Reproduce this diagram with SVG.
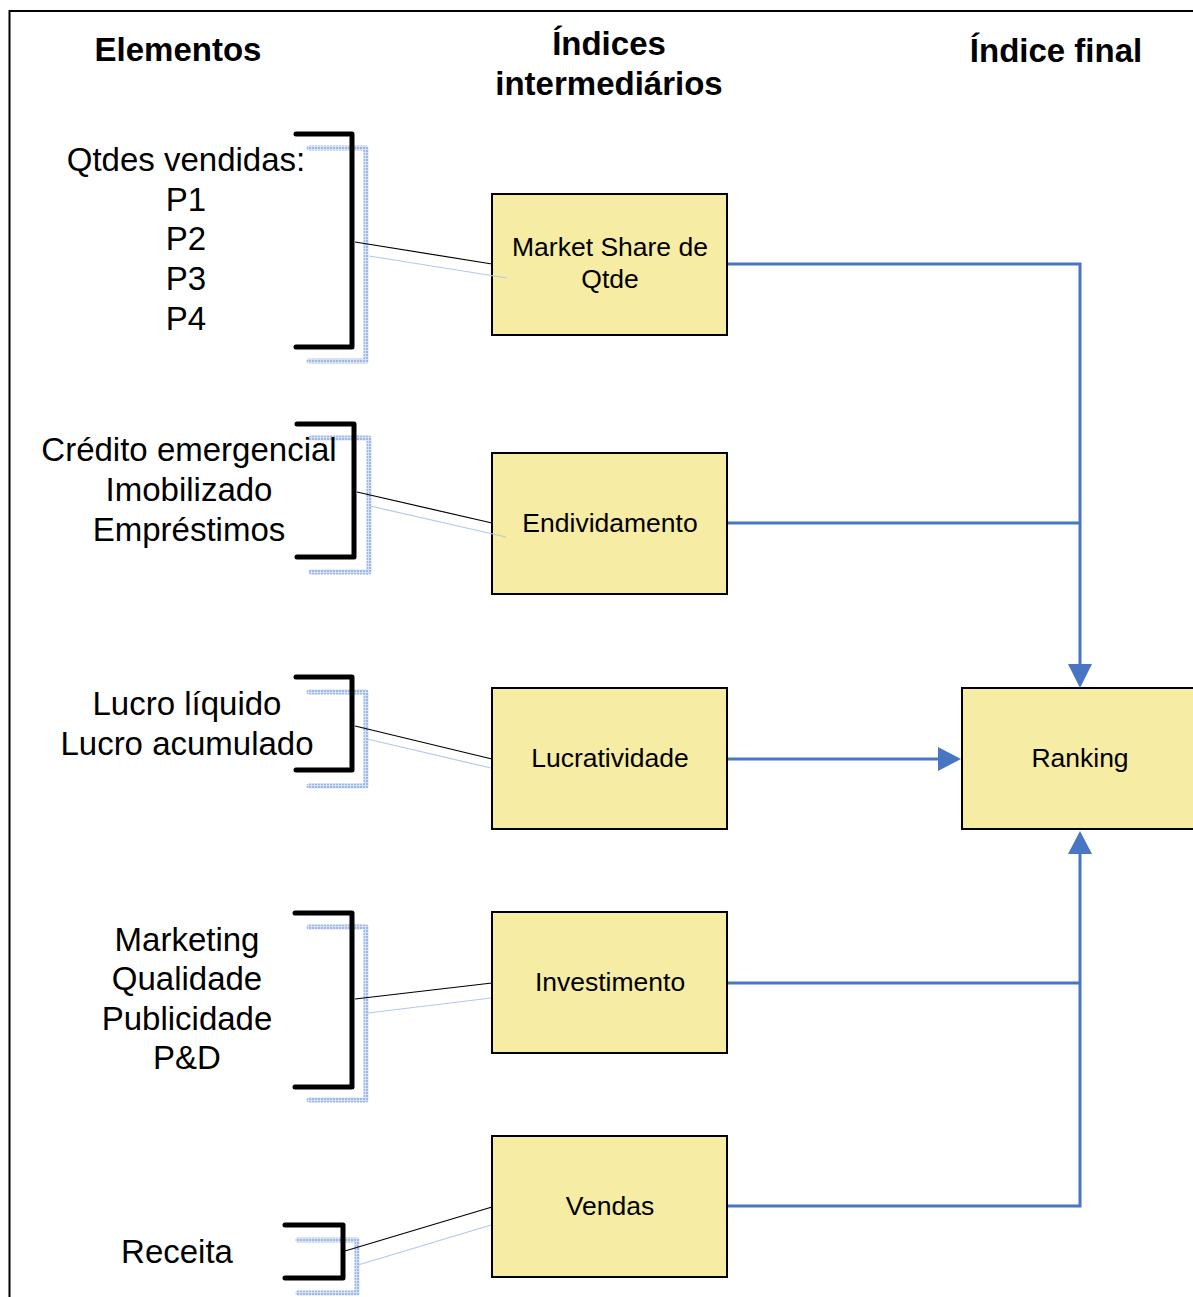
<svg xmlns="http://www.w3.org/2000/svg" width="1193" height="1297" viewBox="0 0 1193 1297">
<defs>
<pattern id="dots" width="3" height="3" patternUnits="userSpaceOnUse">
<rect width="3" height="3" fill="#D6E1F4"/>
<rect width="2" height="2" fill="#9DB8E6"/>
</pattern>
</defs>
<style>
.hdr{font-family:"Liberation Sans",Arial,sans-serif;font-size:33px;font-weight:bold;text-anchor:middle;fill:#000}
.el{font-family:"Liberation Sans",Arial,sans-serif;font-size:33px;text-anchor:middle;fill:#000}
.bx{fill:#F6ECA3;stroke:#000;stroke-width:2}
.bt{font-family:"Liberation Sans",Arial,sans-serif;font-size:26.5px;text-anchor:middle;fill:#000}
.br{fill:none;stroke:#000;stroke-width:5;stroke-linecap:round;stroke-linejoin:round}
.sh{fill:none;stroke:url(#dots);stroke-width:5;stroke-linecap:round;stroke-linejoin:round}
.ln{stroke:#000;stroke-width:1.2;fill:none}
.lns{stroke:#B3C8EC;stroke-width:1.2;fill:none}
.flow{fill:none;stroke:#4876C2;stroke-width:3}
</style>
<rect x="9.5" y="11" width="1200" height="1310" fill="none" stroke="#000" stroke-width="2"/>
<g id="headers">
<text class="hdr" x="178" y="61">Elementos</text>
<text class="hdr" x="609" y="55">Índices</text>
<text class="hdr" x="609" y="95">intermediários</text>
<text class="hdr" x="1056" y="62">Índice final</text>
</g>
<g id="brackets">
<g id="b1">
<polyline class="sh" points="309,148 366,148 366,361 309,361"/>
<polyline class="br" points="296,134 352,134 352,347 296,347"/>
<text class="el" x="186" y="171">Qtdes vendidas:</text>
<text class="el" x="186" y="211">P1</text>
<text class="el" x="186" y="250">P2</text>
<text class="el" x="186" y="290">P3</text>
<text class="el" x="186" y="330">P4</text>
</g>
<g id="b2">
<polyline class="sh" points="311,438 369,438 369,572 311,572"/>
<polyline class="br" points="297,424 354,424 354,557 297,557"/>
<text class="el" x="189" y="461">Crédito emergencial</text>
<text class="el" x="189" y="501">Imobilizado</text>
<text class="el" x="189" y="541">Empréstimos</text>
</g>
<g id="b3">
<polyline class="sh" points="309,692 366,692 366,786 309,786"/>
<polyline class="br" points="296,677 352,677 352,770 296,770"/>
<text class="el" x="187" y="715">Lucro líquido</text>
<text class="el" x="187" y="755">Lucro acumulado</text>
</g>
<g id="b4">
<polyline class="sh" points="309,927 366,927 366,1100 309,1100"/>
<polyline class="br" points="295,913 352,913 352,1087 295,1087"/>
<text class="el" x="187" y="951">Marketing</text>
<text class="el" x="187" y="990">Qualidade</text>
<text class="el" x="187" y="1030">Publicidade</text>
<text class="el" x="187" y="1069">P&amp;D</text>
</g>
<g id="b5">
<polyline class="sh" points="298,1240 357,1240 357,1293 298,1293"/>
<polyline class="br" points="285,1225 343,1225 343,1278 285,1278"/>
<text class="el" x="177" y="1263">Receita</text>
</g>
</g>
<g id="n1"><rect class="bx" x="492" y="194" width="235" height="141"/><text class="bt" x="610" y="256">Market Share de</text><text class="bt" x="610" y="288">Qtde</text></g>
<g id="n2"><rect class="bx" x="492" y="453" width="235" height="141"/><text class="bt" x="610" y="532">Endividamento</text></g>
<g id="n3"><rect class="bx" x="492" y="688" width="235" height="141"/><text class="bt" x="610" y="767">Lucratividade</text></g>
<g id="n4"><rect class="bx" x="492" y="912" width="235" height="141"/><text class="bt" x="610" y="991">Investimento</text></g>
<g id="n5"><rect class="bx" x="492" y="1136" width="235" height="141"/><text class="bt" x="610" y="1215">Vendas</text></g>
<g id="n6"><rect class="bx" x="962" y="688" width="240" height="141"/><text class="bt" x="1080" y="767">Ranking</text></g>
<g id="connectors">
<line class="lns" x1="369" y1="256" x2="507" y2="278"/>
<line class="ln" x1="355" y1="242" x2="492" y2="264"/>
<line class="lns" x1="370" y1="506" x2="506" y2="537"/>
<line class="ln" x1="357" y1="492" x2="492" y2="523"/>
<line class="lns" x1="367" y1="739" x2="491" y2="768"/>
<line class="ln" x1="355" y1="726" x2="492" y2="759"/>
<line class="lns" x1="368" y1="1013" x2="491" y2="998"/>
<line class="ln" x1="355" y1="999" x2="492" y2="983"/>
<line class="lns" x1="358" y1="1265" x2="491" y2="1225"/>
<line class="ln" x1="345" y1="1251" x2="492" y2="1207"/>
<polyline class="flow" points="728,264 1080,264 1080,664"/>
<path d="M1068,664 L1092,664 L1080,688 z" fill="#4876C2"/>
<polyline class="flow" points="728,523 1080,523"/>
<polyline class="flow" points="728,759 938,759"/>
<path d="M938,747 L938,771 L961,759 z" fill="#4876C2"/>
<polyline class="flow" points="728,983 1080,983"/>
<polyline class="flow" points="728,1206 1080,1206 1080,854"/>
<path d="M1068,854 L1092,854 L1080,831 z" fill="#4876C2"/>
</g>
</svg>
